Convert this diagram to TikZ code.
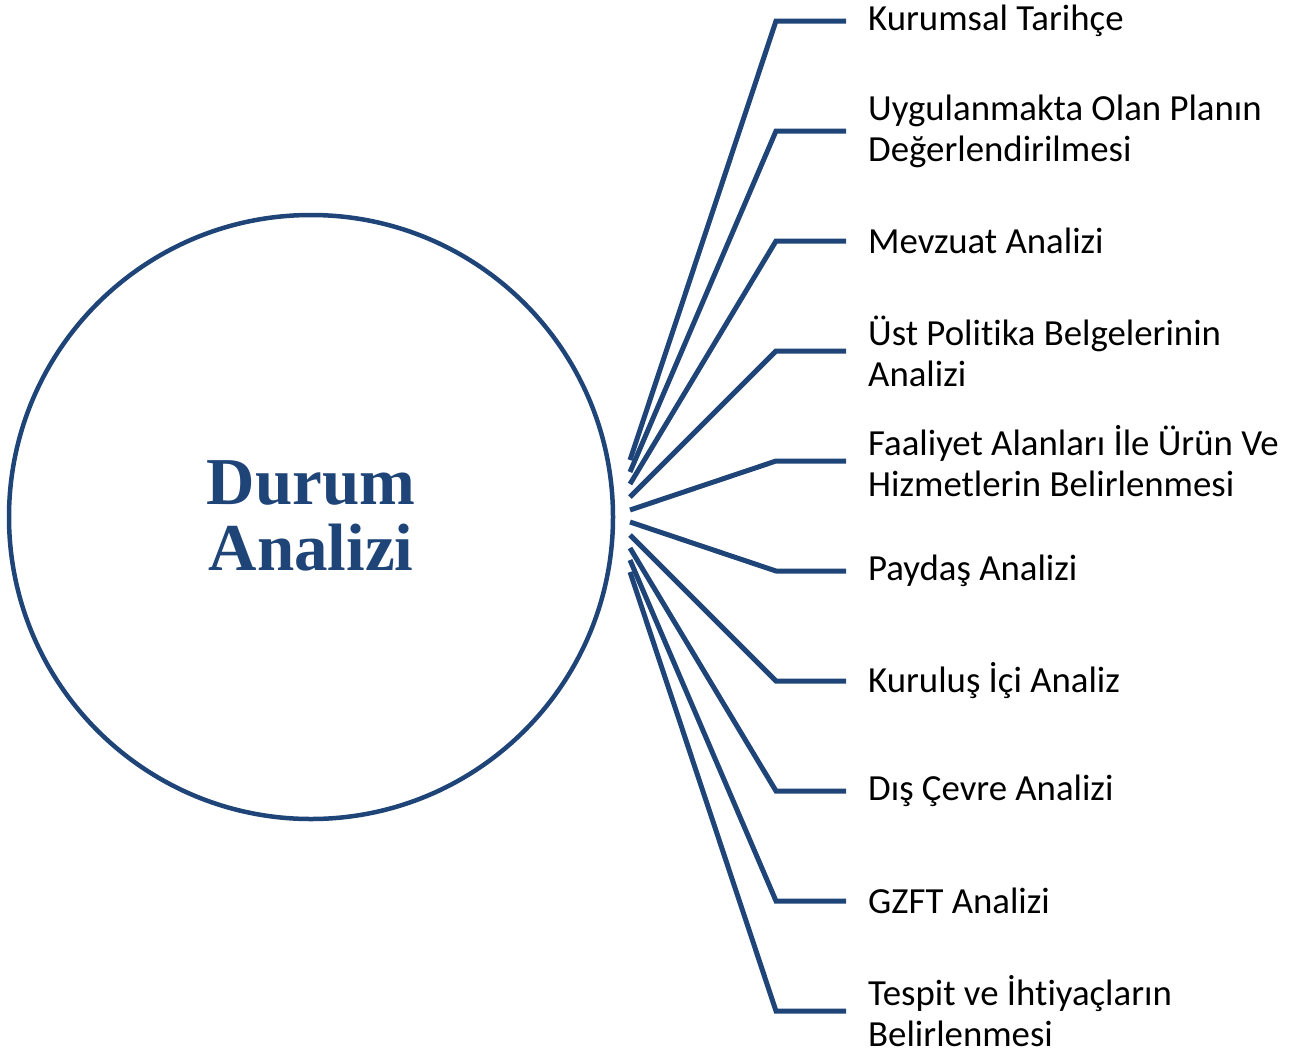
\documentclass[tikz,border=0pt]{standalone}
\usepackage{fontspec}
\setmainfont{Carlito}[Ligatures=NoCommon]
\newfontfamily\titlefont{Liberation Serif}
\definecolor{koyumavi}{HTML}{1F4478}
\tikzset{
    baslik/.style={font=\titlefont\bfseries\fontsize{67}{66}\selectfont, text=koyumavi, align=center},
    madde/.style={anchor=west, align=left, inner sep=0pt, font=\fontsize{36.8}{41}\selectfont},
    kol/.style={draw=koyumavi, line width=5pt}
}
\begin{document}
\begin{tikzpicture}[x=1pt, y=-1pt]
    \useasboundingbox (0,0) rectangle (1298,1050);
    \node[circle, draw=koyumavi, line width=4.5pt, minimum size=604pt, inner sep=0pt] (durum) at (311,517) {};
    \node[baslik] (baslikyazi) at (311,516) {Durum\\Analizi};
    \foreach \i/\sy/\ty/\yazi in {
            1/460/21/{Kurumsal Tarihçe},
            2/472/131/{Uygulanmakta Olan Planın\\Değerlendirilmesi},
            3/484/241/{Mevzuat Analizi},
            4/497/351/{Üst Politika Belgelerinin\\Analizi},
            5/510/461/{Faaliyet Alanları İle Ürün Ve\\Hizmetlerin Belirlenmesi},
            6/522/571/{Paydaş Analizi},
            7/535/681/{Kuruluş İçi Analiz},
            8/548/791/{Dış Çevre Analizi},
            9/560/901/{GZFT Analizi},
            10/572/1011/{Tespit ve İhtiyaçların\\Belirlenmesi}} {
        \coordinate (bas\i) at (630,\sy);
        \coordinate (kirik\i) at (776,\ty);
        \coordinate (uc\i) at (846,\ty);
        \node[madde] (madde\i) at (868,\ty) {\yazi};
        \draw[kol] (bas\i) -- (kirik\i) -- (uc\i);
    }
\end{tikzpicture}
\end{document}
